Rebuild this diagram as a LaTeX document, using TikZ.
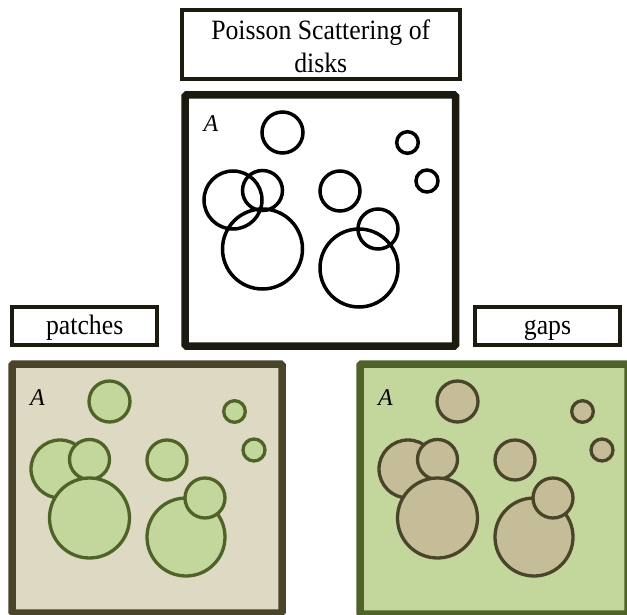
\documentclass[tikz,border=0pt]{standalone}
\usepackage{fontspec}
\setmainfont{Liberation Serif}
\newfontfamily\boxfont[FakeStretch=0.92]{Liberation Serif}

\definecolor{inkdark}{HTML}{1D1B10}
\definecolor{tanfill}{HTML}{DDD9C3}
\definecolor{tandark}{HTML}{4A452A}
\definecolor{tandisk}{HTML}{C4BD97}
\definecolor{olivefill}{HTML}{C3D69B}
\definecolor{olivedark}{HTML}{4F6228}

% one realisation of the disk process, drawn in a panel whose
% top-left corner is the origin of the current scope
\newcommand\scatterdisks[1]{%
  \path[#1] (48,105)   circle[radius=29pt];
  \path[#1] (77.5,95.5) circle[radius=20pt];
  \path[#1] (77.5,154) circle[radius=40pt];
  \path[#1] (174,173)  circle[radius=39pt];
  \path[#1] (193,134)  circle[radius=20pt];
  \path[#1] (97.5,37.5) circle[radius=20.5pt];
  \path[#1] (155,96)   circle[radius=20pt];
  \path[#1] (222.5,47.5) circle[radius=10.8pt];
  \path[#1] (242,86)   circle[radius=11pt];
}

\tikzset{
  panel/.style={draw, line width=7.5pt, rounded corners=1.5pt, inner sep=0pt},
  labelbox/.style={draw=inkdark, line width=4pt, fill=white, inner sep=0pt,
    font=\boxfont\fontsize{28}{33.4}\selectfont},
  setlabel/.style={font=\itshape\fontsize{24}{24}\selectfont, inner sep=0pt},
  plaindisk/.style={draw=black, line width=3.5pt},
  greendisk/.style={draw=olivedark, fill=olivefill, line width=3.3pt},
  tandiskst/.style={draw=tandark, fill=tandisk, line width=3.3pt},
}

\begin{document}
\begin{tikzpicture}[x=1pt, y=-1pt]
\clip (0,0) rectangle (627,615);
\fill[white] (0,0) rectangle (627,615);

% heading and panel captions
\node[labelbox, align=center, minimum width=277.5pt, minimum height=69.2pt]
  (title) at (320.75,44.9) {\rule{0pt}{22pt}Poisson Scattering of\\disks};
\node[labelbox, minimum width=145.3pt, minimum height=37.7pt,
  text height=20pt, text depth=3.7pt] (patches) at (84.65,325.85) {patches};
\node[labelbox, minimum width=144.4pt, minimum height=37.7pt,
  text height=20pt, text depth=3.7pt] (gaps) at (547.5,325.85) {gaps};

% the scattered disks
\node[panel, draw=inkdark, fill=white, minimum width=270.5pt, minimum height=251pt]
  (top) at (320.25,220.5) {};
\begin{scope}[shift={(185,95)}]
  \scatterdisks{plaindisk}
  \node[setlabel] (Atop) at (26,29) {A};
\end{scope}

% patches: disks light on a tan ground
\node[panel, draw=tandark, fill=tanfill, minimum width=270pt, minimum height=249pt]
  (left) at (147,488.5) {};
\begin{scope}[shift={(12,364)}]
  \scatterdisks{greendisk}
  \node[setlabel] (Aleft) at (25.5,33.5) {A};
\end{scope}

% gaps: tan disks on a green ground
\node[panel, draw=olivedark, fill=olivefill, minimum width=268pt, minimum height=250pt]
  (right) at (494,489) {};
\begin{scope}[shift={(360,364)}]
  \scatterdisks{tandiskst}
  \node[setlabel] (Aright) at (25.5,33.5) {A};
\end{scope}
\end{tikzpicture}
\end{document}
